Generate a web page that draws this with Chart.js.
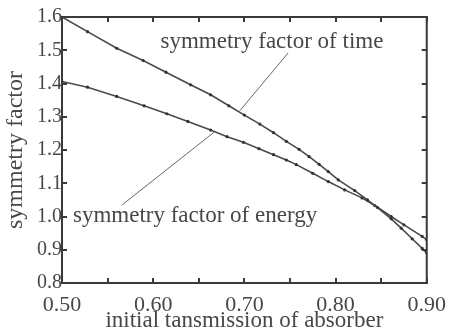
<!DOCTYPE html>
<html>
<head>
<meta charset="utf-8">
<script src="https://cdn.jsdelivr.net/npm/chart.js@4"></script>
<style>
  html, body { margin: 0; padding: 0; background: #fff; }
  #wrap { width: 455px; height: 332px; }
</style>
</head>
<body>
<div id="wrap"><canvas id="c"></canvas></div>
<script>
// symmetry factor of time
var timeX = [0.500, 0.528, 0.560, 0.589, 0.614, 0.641, 0.663, 0.683, 0.700, 0.717, 0.732, 0.746, 0.760, 0.771, 0.782, 0.792, 0.803, 0.821, 0.835, 0.846, 0.861, 0.872, 0.884, 0.895, 0.900];
var timeY = [1.600, 1.556, 1.506, 1.469, 1.434, 1.396, 1.366, 1.333, 1.305, 1.278, 1.252, 1.226, 1.202, 1.180, 1.157, 1.135, 1.110, 1.078, 1.050, 1.027, 0.993, 0.965, 0.933, 0.904, 0.890];
// symmetry factor of energy
var energyX = [0.500, 0.528, 0.560, 0.590, 0.615, 0.638, 0.663, 0.681, 0.699, 0.716, 0.732, 0.746, 0.757, 0.775, 0.792, 0.810, 0.829, 0.843, 0.861, 0.875, 0.895, 0.900];
var energyY = [1.406, 1.389, 1.361, 1.333, 1.309, 1.286, 1.260, 1.240, 1.223, 1.204, 1.186, 1.170, 1.156, 1.130, 1.105, 1.080, 1.056, 1.033, 1.000, 0.975, 0.940, 0.930];

var xTicks = [0.50, 0.60, 0.70, 0.80, 0.90];
var xTickLabels = ['0.50', '0.60', '0.70', '0.80', '0.90'];
var xMinorTicks = [0.55, 0.65, 0.75, 0.85];
var yTicks = [0.8, 0.9, 1.0, 1.1, 1.2, 1.3, 1.4, 1.5, 1.6];
var yTickLabels = ['0.8', '0.9', '1.0', '1.1', '1.2', '1.3', '1.4', '1.5', '1.6'];

// text labels with leader lines, in data units
var notes = [
    { text: 'symmetry factor of time', x: 0.608, y: 1.507, from: [0.748, 1.492], to: [0.695, 1.318] },
    { text: 'symmetry factor of energy', x: 0.512, y: 0.984, from: [0.566, 1.035], to: [0.667, 1.254] }
];

var ink = '#474747';
var serif = '"Liberation Serif", "Times New Roman", serif';

function toPoints(xs, ys) {
    return xs.map((x, i) => ({ x: x, y: ys[i] }));
}

var boxPlugin = {
    id: 'axisBox',
    afterDraw(chart) {
        const ctx = chart.ctx;
        const a = chart.chartArea;
        const x = chart.scales.x;
        const y = chart.scales.y;
        const w = a.right - a.left;
        const h = a.bottom - a.top;
        ctx.save();
        // frame as filled bars
        ctx.fillStyle = '#3a3a3a';
        ctx.fillRect(a.left - 1, a.top - 1, w + 2, 2);
        ctx.fillRect(a.left - 1, a.bottom - 1, w + 2, 2);
        ctx.fillRect(a.left - 1, a.top - 1, 2, h + 2);
        ctx.fillRect(a.right - 1, a.top - 1, 2, h + 2);
        // inward ticks
        xTicks.concat(xMinorTicks).forEach(v => {
            const px = Math.round(x.getPixelForValue(v));
            ctx.fillRect(px - 1, a.bottom - 5, 2, 5);
            ctx.fillRect(px - 1, a.top, 2, 5);
        });
        yTicks.forEach(v => {
            const py = Math.round(y.getPixelForValue(v));
            ctx.fillRect(a.left, py - 1, 5, 2);
            ctx.fillRect(a.right - 5, py - 1, 5, 2);
        });

        // notes
        ctx.strokeStyle = '#666666';
        ctx.lineWidth = 1;
        ctx.fillStyle = ink;
        ctx.font = '23px ' + serif;
        ctx.textBaseline = 'alphabetic';
        ctx.textAlign = 'left';
        notes.forEach(n => {
            ctx.beginPath();
            ctx.moveTo(x.getPixelForValue(n.from[0]), y.getPixelForValue(n.from[1]));
            ctx.lineTo(x.getPixelForValue(n.to[0]), y.getPixelForValue(n.to[1]));
            ctx.stroke();
            ctx.fillText(n.text, x.getPixelForValue(n.x), y.getPixelForValue(n.y));
        });
        ctx.restore();
    }
};

function lineSet(label, pts) {
    return {
        label: label,
        data: pts,
        showLine: true,
        borderColor: '#4a4a4a',
        borderWidth: 1.6,
        pointRadius: 1.6,
        pointBackgroundColor: '#333',
        pointBorderWidth: 0,
        tension: 0
    };
}

new Chart(document.getElementById('c'), {
    type: 'scatter',
    data: {
        datasets: [
            lineSet('symmetry factor of time', toPoints(timeX, timeY)),
            lineSet('symmetry factor of energy', toPoints(energyX, energyY))
        ]
    },
    options: {
        responsive: true,
        maintainAspectRatio: false,
        animation: false,
        layout: { padding: { top: 17, right: 22, left: 0, bottom: 0 } },
        plugins: { legend: { display: false }, tooltip: { enabled: false } },
        scales: {
            x: {
                type: 'linear',
                min: 0.5,
                max: 0.9,
                afterBuildTicks: s => { s.ticks = xTicks.map(v => ({ value: v })); },
                afterFit: s => { s.height = 49; },
                grid: { display: false, drawTicks: false },
                border: { display: true, color: '#3a3a3a', width: 2 },
                ticks: {
                    padding: 9,
                    color: ink,
                    font: { family: serif, size: 22 },
                    maxRotation: 0,
                    autoSkip: false,
                    callback: (v, i) => xTickLabels[i]
                },
                title: {
                    display: true,
                    text: 'initial tansmission of absorber',
                    color: ink,
                    font: { family: serif, size: 23, lineHeight: 1 },
                    padding: { top: 0, bottom: 0 }
                }
            },
            y: {
                type: 'linear',
                min: 0.8,
                max: 1.6,
                afterBuildTicks: s => { s.ticks = yTicks.map(v => ({ value: v })); },
                afterFit: s => { s.width = 62; },
                grid: { display: false, drawTicks: false },
                border: { display: true, color: '#3a3a3a', width: 2 },
                ticks: {
                    padding: 0,
                    color: ink,
                    font: { family: serif, size: 20 },
                    autoSkip: false,
                    callback: (v, i) => yTickLabels[i]
                },
                title: {
                    display: true,
                    text: 'symmetry factor',
                    color: ink,
                    font: { family: serif, size: 24, lineHeight: 1 },
                    padding: { top: 4, bottom: 0 }
                }
            }
        }
    },
    plugins: [boxPlugin]
});
</script>
</body>
</html>
